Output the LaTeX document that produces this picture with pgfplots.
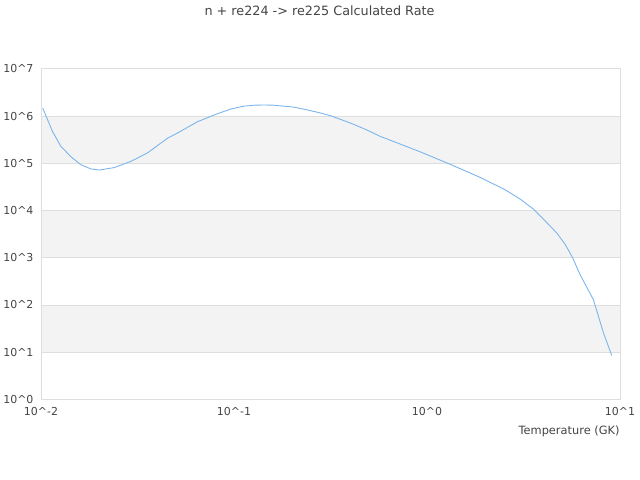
\documentclass[border=0pt]{standalone}
\usepackage{pgfplots}
\pgfplotsset{compat=1.18}
\usepackage{fontspec}
\setmainfont{DejaVu Sans}
\definecolor{ratecolor}{RGB}{124,181,236}
\definecolor{bandcolor}{RGB}{243,243,243}
\definecolor{gridcolor}{RGB}{222,222,222}
\definecolor{txtcolor}{RGB}{68,68,68}

\begin{document}
\begin{tikzpicture}
\begin{axis}[
    set layers,
    scale only axis,
    width=580bp,
    height=331bp,
    at={(0,0)}, anchor=south west,
    xmode=log, ymode=log,
    xmin=0.01, xmax=10,
    ymin=1, ymax=1e7,
    xtick={0.01,0.1,1,10},
    xticklabels={10\textasciicircum-2,10\textasciicircum-1,10\textasciicircum0,10\textasciicircum1},
    ytick={1,10,100,1e3,1e4,1e5,1e6,1e7},
    yticklabels={10\textasciicircum0,10\textasciicircum1,10\textasciicircum2,10\textasciicircum3,10\textasciicircum4,10\textasciicircum5,10\textasciicircum6,10\textasciicircum7},
    major tick length=0pt,
    minor tick length=0pt,
    ymajorgrids,
    grid style={gridcolor, line width=0.8bp},
    axis line style={gridcolor, line width=0.8bp},
    tick label style={font=\fontsize{11bp}{13bp}\selectfont, text=txtcolor},
    xticklabel style={yshift=-4bp},
    yticklabel style={xshift=-4bp},
    title={n + re224 -> re225 Calculated Rate},
    title style={font=\fontsize{12.8bp}{15bp}\selectfont, text=txtcolor,
        at={(rel axis cs:0.5,1)}, anchor=base, xshift=-11bp, yshift=47bp},
    xlabel={Temperature (GK)},
    xlabel style={font=\fontsize{11.4bp}{13bp}\selectfont, text=txtcolor,
        at={(rel axis cs:1,0)}, anchor=base east, xshift=3bp, yshift=-35bp},
]
\begin{pgfonlayer}{axis background}
\fill[bandcolor] (axis cs:0.01,10) rectangle (axis cs:10,100);
\fill[bandcolor] (axis cs:0.01,1e3) rectangle (axis cs:10,1e4);
\fill[bandcolor] (axis cs:0.01,1e5) rectangle (axis cs:10,1e6);
\end{pgfonlayer}
\addplot[ratecolor, line width=0.9bp, mark=none] coordinates {
    (0.01021, 1.48e6)
    (0.01148, 4.68e5)
    (0.01268, 2.29e5)
    (0.01429, 1.38e5)
    (0.0161, 9.3e4)
    (0.01816, 7.6e4)
    (0.02004, 7.2e4)
    (0.02393, 8.1e4)
    (0.02924, 1.10e5)
    (0.03565, 1.66e5)
    (0.0452, 3.39e5)
    (0.0509, 4.37e5)
    (0.0647, 7.6e5)
    (0.0820, 1.12e6)
    (0.0962, 1.41e6)
    (0.112, 1.62e6)
    (0.1268, 1.70e6)
    (0.143, 1.72e6)
    (0.161, 1.70e6)
    (0.182, 1.62e6)
    (0.204, 1.55e6)
    (0.24, 1.35e6)
    (0.279, 1.17e6)
    (0.316, 1.02e6)
    (0.402, 7.1e5)
    (0.479, 5.25e5)
    (0.574, 3.7e5)
    (0.724, 2.57e5)
    (0.925, 1.74e5)
    (1.32, 9.5e4)
    (1.89, 5.0e4)
    (2.54, 2.75e4)
    (3.04, 1.74e4)
    (3.56, 1.07e4)
    (4.18, 5.5e3)
    (4.71, 3.31e3)
    (5.20, 1.91e3)
    (5.68, 1.0e3)
    (6.21, 437)
    (7.28, 129)
    (8.20, 25.7)
    (9.06, 8.5)
};
\end{axis}
\path (-40bp,-80bp) rectangle (600bp,400bp);
\end{tikzpicture}
\end{document}
